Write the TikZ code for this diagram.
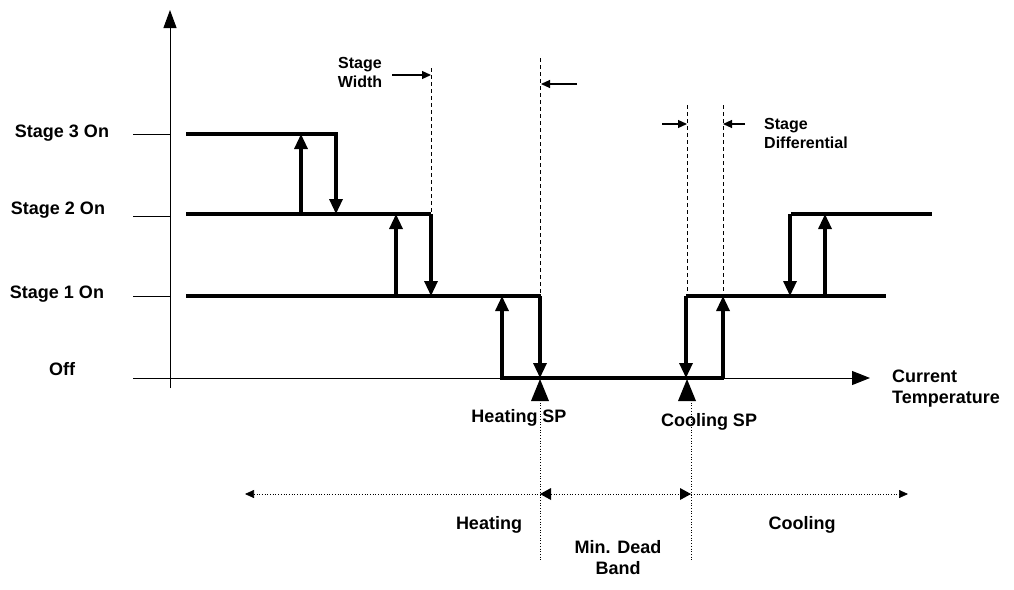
\documentclass[tikz,border=0pt]{standalone}
\usepackage{fontspec}
\setmainfont{Liberation Sans}
\usetikzlibrary{arrows.meta}
\begin{document}
\begin{tikzpicture}[x=1pt,y=-1pt,
 thick line/.style={line width=4pt},
 up/.style={line width=3.2pt,-{Triangle[length=15pt,width=13pt]}},
 ax/.style={line width=1pt},
 lbl/.style={font=\bfseries\fontsize{18}{21}\selectfont,inner sep=1pt},
 slbl/.style={font=\bfseries\fontsize{16}{19}\selectfont,inner sep=1pt},
 guide/.style={line width=0.6pt,dash pattern=on 4pt off 3pt},
 dot/.style={dotted,line width=0.7pt},
 sm/.style={line width=1.2pt,-{Triangle[length=9pt,width=8pt]}}]
\useasboundingbox (0,0) rectangle (1014,589);
% axes
\draw[ax,-{Triangle[length=18pt,width=13pt]}] (170,388) -- (170,10);
\draw[ax,-{Triangle[length=18pt,width=14pt]}] (133,378) -- (870,378);
\foreach \y in {134,216,296} \draw[ax] (133,\y) -- (170,\y);
% labels
\node[lbl] (s3) at (62,133) {Stage 3 On};
\node[lbl] (s2) at (58,210) {Stage 2 On};
\node[lbl] (s1) at (57,294) {Stage 1 On};
\node[lbl] (off) at (62,369) {Off};
% thick levels
\draw[thick line] (186,134) -- (338,134);
\draw[thick line] (186,214) -- (431,214);
\draw[thick line] (186,296) -- (541,296);
\draw[thick line] (500,378) -- (724,378);
\draw[thick line] (686,296) -- (886,296);
\draw[thick line] (791,214) -- (932,214);
% transitions
\draw[up] (301,214) -- (301,134);
\draw[up] (336,134) -- (336,214);
\draw[up] (396,296) -- (396,214);
\draw[up] (431,214) -- (431,296);
\draw[up] (502,378) -- (502,296);
\draw[up] (540,296) -- (540,378);
\draw[up] (686,296) -- (686,378);
\draw[up] (723,378) -- (723,296);
\draw[up] (790,214) -- (790,296);
\draw[up] (825,296) -- (825,214);
% dashed guides
\draw[guide] (431,68) -- (431,214);
\draw[guide] (540,58) -- (540,296);
\draw[guide] (687,105) -- (687,296);
\draw[guide] (723,105) -- (723,296);
% small arrows
\coordinate (w1) at (392,75); \coordinate (w2) at (431,75);
\coordinate (w3) at (577,84); \coordinate (w4) at (541,84);
\coordinate (d1) at (662,124); \coordinate (d2) at (687,124);
\coordinate (d3) at (745,124); \coordinate (d4) at (723,124);
\draw[sm] (w1) -- (w2);
\draw[sm] (w3) -- (w4);
\draw[sm] (d1) -- (d2);
\draw[sm] (d3) -- (d4);
\node[slbl,align=center] (sw) at (360,72) {Stage\\Width};
\node[slbl,align=left,anchor=west] (sd) at (763,133) {Stage\\Differential};
% setpoint markers
\fill (540,379) -- (549,401) -- (531,401) -- cycle;
\fill (687,379) -- (696,401) -- (678,401) -- cycle;
\draw[dot] (540,400) -- (540,560);
\draw[dot] (691,400) -- (691,560);
\node[lbl] (hsp) at (519,418) {Heating SP};
\node[lbl] (csp) at (709,422) {Cooling SP};
\node[lbl,align=left,anchor=west] (ct) at (891,389) {Current\\Temperature};
% bottom range
\draw[dot,{Triangle[length=9pt,width=8pt]}-{Triangle[length=9pt,width=8pt]}] (245,494) -- (908,494);
\fill (540,494) -- (551,488) -- (551,500) -- cycle;
\fill (691,494) -- (680,488) -- (680,500) -- cycle;
\node[lbl] (h) at (489,525) {Heating};
\node[lbl] (c) at (802,525) {Cooling};
\node[lbl,align=center] (mdb) at (618,558) {Min. Dead\\Band};
\end{tikzpicture}
\end{document}
